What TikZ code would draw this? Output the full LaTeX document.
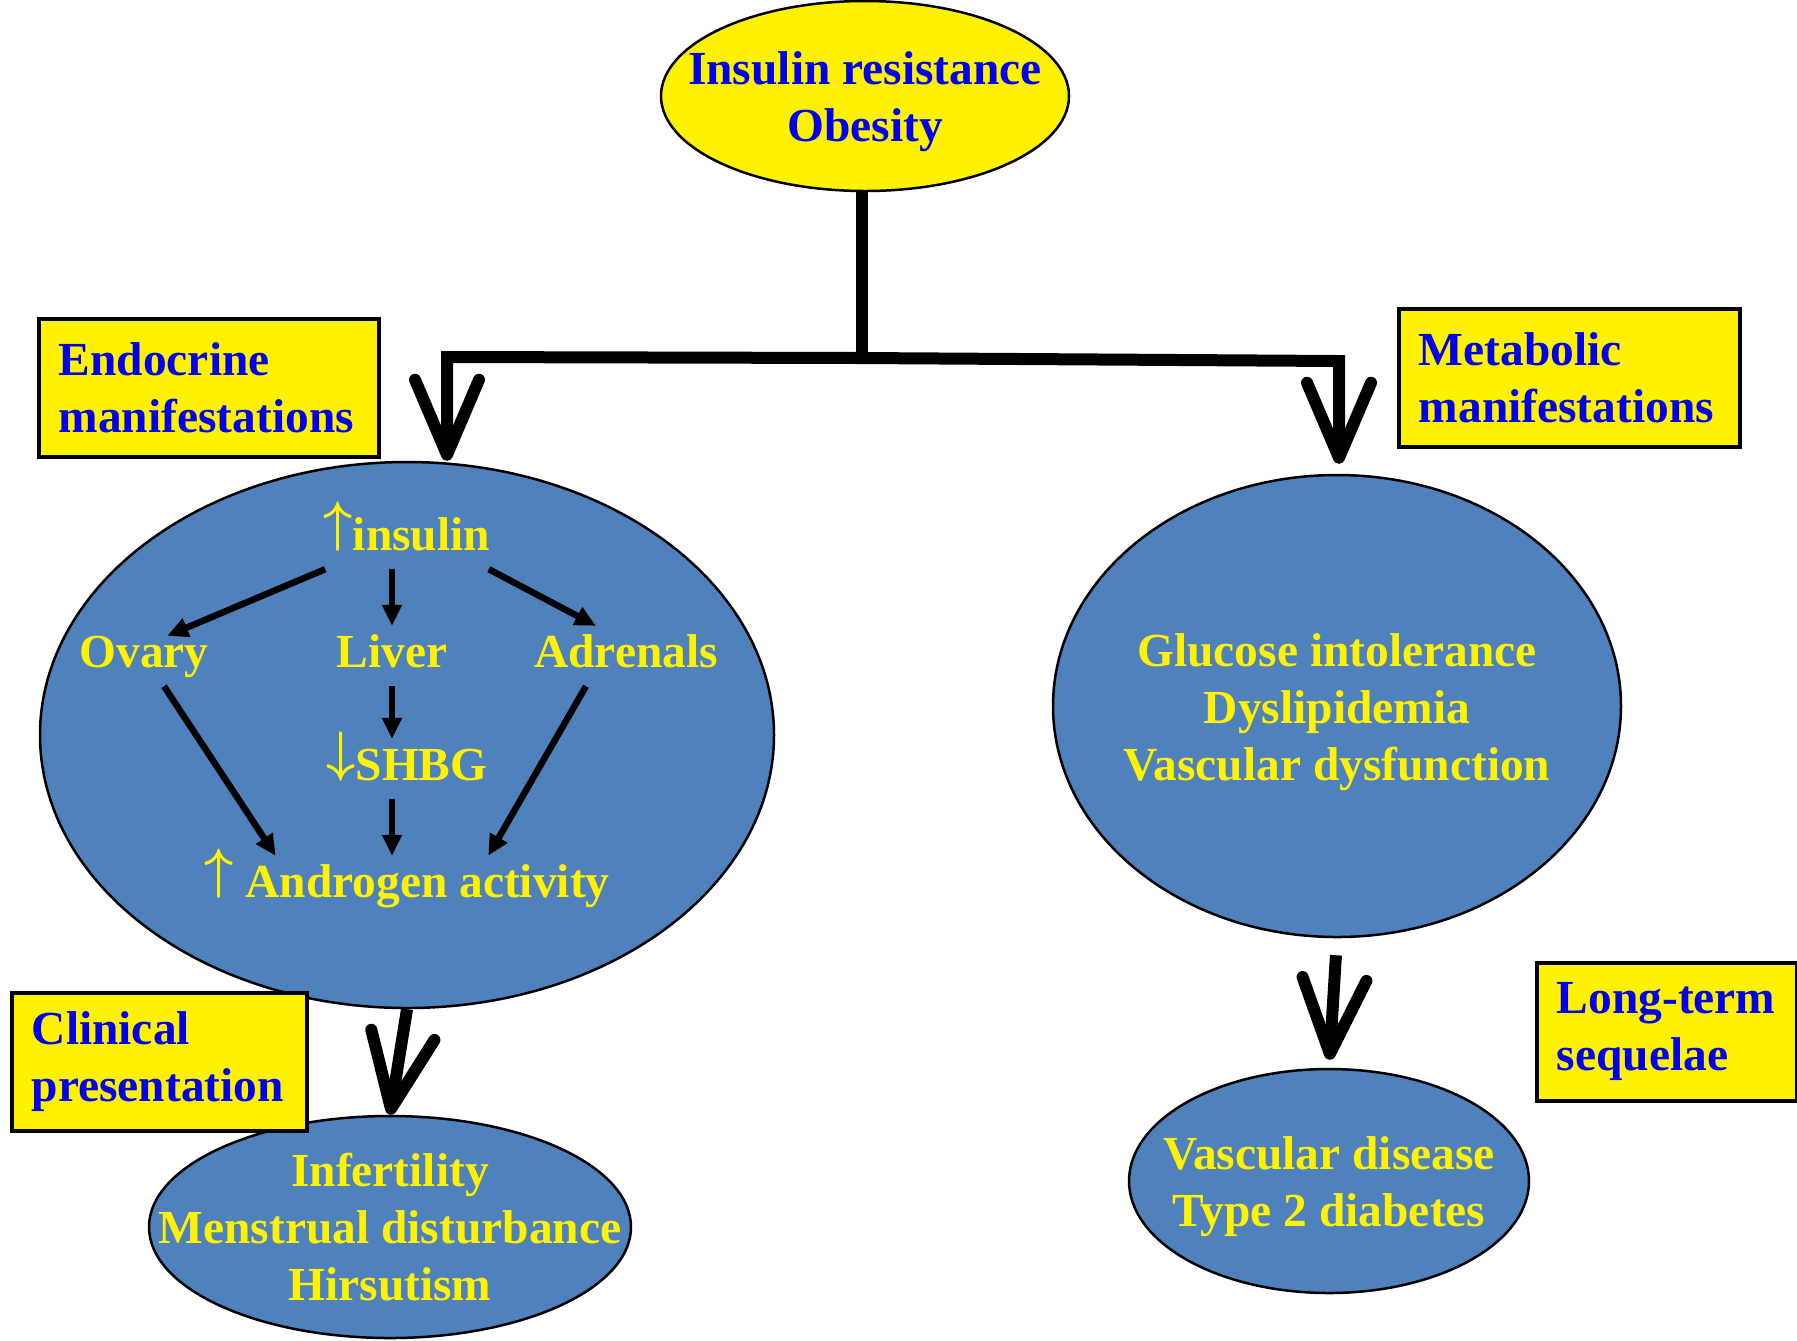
\documentclass[tikz,border=0pt]{standalone}
\usepackage{fontspec}
\usepackage{graphicx}
\setmainfont{Liberation Serif}
\usetikzlibrary{arrows.meta, shapes.geometric}
\definecolor{ovalblue}{RGB}{79,129,189}
\definecolor{tagblue}{RGB}{0,0,235}
\newcommand{\upa}{\raisebox{0.213em}{\scalebox{1}[1.1]{\boldmath$\uparrow$}}}
\newcommand{\downa}{\raisebox{0.213em}{\scalebox{1}[1.1]{\boldmath$\downarrow$}}}

\begin{document}
\begin{tikzpicture}[x=0.1mm, y=-0.1mm,
        every node/.style={font=\fontsize{13.5}{16.2}\selectfont\bfseries},
        oval/.style={ellipse, draw, line width=0.25mm, fill=ovalblue, inner sep=0pt},
        ovaltext/.style={text=yellow, align=center, inner sep=0pt},
        tagbox/.style={draw, line width=0.35mm, fill=yellow, text=tagblue, align=left, anchor=north west,
                inner xsep=2mm, inner ysep=0pt, minimum height=13.8mm},
        inner/.style={text=yellow, inner sep=0.8mm, text height=3.3mm, text depth=1mm},
        big/.style={line width=1.2mm, line join=miter},
        bigarrow/.style={big, -{Straight Barb[length=7.5mm, width=6.4mm, round]}},
        thinarrow/.style={line width=0.65mm, -{Triangle[length=2.1mm, width=1.9mm]}}
    ]
    \useasboundingbox (0,0) rectangle (1797,1340);

    % ovals
    \node[oval, fill=yellow, minimum width=40.8mm, minimum height=19mm,
        label={[ovaltext, text=tagblue, yshift=-0.6mm]center:Insulin resistance\\Obesity}] (ir) at (865,96) {};
    \node[oval, minimum width=73.4mm, minimum height=54.6mm] (endo) at (407,735) {};
    \node[oval, minimum width=56.8mm, minimum height=46.2mm,
        label={[ovaltext, yshift=-0.6mm]center:Glucose intolerance\\Dyslipidemia\\Vascular dysfunction}] (metab) at (1337,706) {};
    \node[oval, minimum width=48.2mm, minimum height=22.2mm,
        label={[ovaltext]center:Infertility\\Menstrual disturbance\\Hirsutism}] (clin) at (390,1227) {};
    \node[oval, minimum width=40mm, minimum height=22.4mm,
        label={[ovaltext, yshift=-0.6mm]center:Vascular disease\\Type 2 diabetes}] (seq) at (1329,1181) {};

    % yellow tags
    \foreach \n/\x/\y/\w/\tw/\txt in {endotag/37/317/34/30/{Endocrine\\manifestations},
            metabtag/1397/307/34.1/30.1/{Metabolic\\manifestations},
            clintag/10/991/29.5/25.5/{Clinical\\presentation},
            seqtag/1535/961/26/22/{Long-term\\sequelae}} {
            \node[tagbox, minimum width=\w mm, text width=\tw mm] (\n) at (\x,\y) {\txt};
        }

    % split from the top oval
    \coordinate (split) at (862,358);
    \coordinate (lcorner) at (447,357);
    \coordinate (rcorner) at (1339,361);
    \draw[big] (ir.south -| split) -- (split);
    \draw[bigarrow] (split) -- (lcorner) -- (endo.north -| lcorner);
    \draw[bigarrow, shorten >=1mm] (split) -- (rcorner) -- (metab.north -| rcorner);
    \draw[bigarrow] (endo.south) -- (clin.north);
    \draw[bigarrow, shorten <=1.7mm, shorten >=0.8mm] (metab.south) -- (seq.north);

    % inside the endocrine oval
    \node[inner] (insulin) at (407,539) {\upa insulin};
    \node[inner] (ovary) at (144,656) {Ovary};
    \node[inner] (liver) at (392,656) {Liver};
    \node[inner] (adrenals) at (626,656) {Adrenals};
    \node[inner] (shbg) at (407,769) {\downa SHBG};
    \node[inner] (androgen) at (407,886) {\upa\ Androgen activity};

    \draw[thinarrow] ([xshift=1mm]insulin.south west) -- ([xshift=-5mm, yshift=-1mm]ovary.north east);
    \draw[thinarrow] (insulin.south -| liver) -- (liver.north);
    \draw[thinarrow] ([xshift=-1mm]insulin.south east) -- ([xshift=-3mm]adrenals.north);
    \draw[thinarrow] ([xshift=2mm]ovary.south) -- ([xshift=8mm]androgen.north west);
    \draw[thinarrow] (liver.south) -- (liver.south |- shbg.north);
    \draw[thinarrow] (shbg.south -| liver) -- (androgen.north -| liver);
    \draw[thinarrow] ([xshift=-4mm]adrenals.south) -- ([xshift=-13mm]androgen.north east);
\end{tikzpicture}
\end{document}
